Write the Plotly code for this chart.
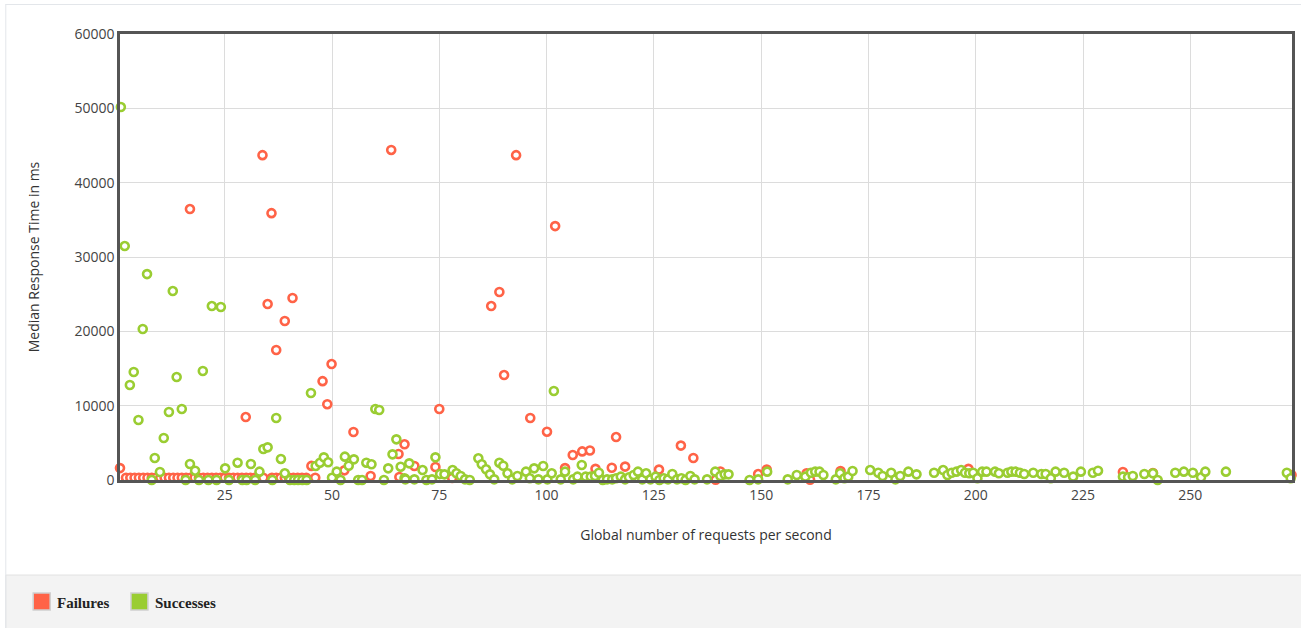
import plotly.graph_objects as go

# ---------------- data ----------------
fail_x = [0.6, 2, 3, 4, 5, 6, 7, 8, 9, 10, 11, 12, 13, 14, 15, 16, 17, 18, 19, 20, 21, 22, 23, 24,
          25, 26, 27, 28, 29, 30, 31, 32, 33, 34, 36, 37, 38, 39, 40, 41, 42, 43, 44, 46.1,
          16.9, 29.9, 33.8, 35.0, 35.9, 37.0, 39.0, 40.8,
          45.2, 47.8, 48.9, 49.9, 52.9, 55.0, 59.0, 63.8, 65.5, 65.7, 66.9, 69.2, 74.1, 75.0, 78.0,
          87.1, 89.0, 90.1, 92.9, 96.2, 100.1, 102.0, 104.3, 106.1, 108.3, 110.1, 111.4, 115.2,
          116.2, 118.3, 126.2, 131.3, 134.2,
          139.4, 140.5, 149.3, 151.3, 160.6, 161.4, 168.5, 198.3, 234.3, 241.3, 273.6]
fail_y = [1600, 300, 300, 300, 300, 300, 300, 300, 300, 300, 300, 300, 300, 300, 300, 300, 300, 300,
          300, 300, 300, 300, 300, 300, 300, 300, 300, 300, 300, 300, 300, 300, 300, 300, 300, 300,
          300, 300, 300, 300, 300, 300, 300, 300,
          36450, 8470, 43700, 23670, 35900, 17490, 21390, 24480,
          1900, 13300, 10200, 15600, 1300, 6460, 540, 44400, 3500, 400, 4800, 1880, 1750, 9550, 270,
          23400, 25290, 14120, 43700, 8340, 6500, 34160, 1600, 3360, 3850, 3970, 1500, 1650,
          5780, 1800, 1400, 4630, 2960,
          50, 1150, 800, 1400, 900, 50, 1200, 1500, 1080, 940, 670]

succ_x = [0.8, 1.7, 2.9, 3.8, 4.9, 5.9, 6.9, 8.7, 9.9, 10.8, 12.0, 12.9, 13.8, 15.0, 19.9, 22.0,
          24.1, 37.0, 45.1, 60.1, 61.0, 101.7,
          8.0, 15.9, 16.9, 18.1, 19.0, 21.2, 23.1, 25.1, 26.0, 28.0, 29.1, 30.1, 31.1, 32.1, 33.1,
          34.0, 35.0, 36.1, 38.1, 39.0, 40.2, 41.2, 42.1, 43.1, 44.1, 46.2, 47.2, 48.1, 49.1, 50.0,
          51.1, 52.0, 53.0, 53.9, 55.1, 56.1, 57.0, 58.0, 59.2, 62.1, 63.1, 64.1, 65.0, 66.0, 66.9,
          67.1, 68.0, 69.2, 71.1, 72.0, 73.3, 74.1, 75.2, 76.2, 78.1, 79.0, 80.0, 81.0, 82.1, 84.1,
          84.9, 85.9, 86.8, 87.8, 89.0, 89.9, 90.9, 92.0, 93.2, 95.2, 96.1, 97.1, 98.1, 99.2, 100.2,
          101.2, 103.3, 104.3, 106.2, 107.2, 108.2, 109.1, 110.3, 111.3, 112.2, 113.1, 114.1, 115.3,
          116.2, 117.3, 118.3, 119.2, 120.3, 121.3, 122.3, 123.2, 124.2, 125.4, 126.3, 127.3, 128.3,
          129.3, 130.4, 131.4, 132.4, 133.5, 134.5,
          137.4, 139.3, 140.5, 141.5, 142.4, 147.3, 149.3, 151.4, 156.2, 158.3, 160.3, 161.6, 162.6,
          163.6, 164.5, 167.4, 168.4, 169.4, 170.3, 171.3, 175.4, 177.3, 178.3, 180.3, 181.3, 182.4,
          184.3, 186.2, 190.3, 192.4, 193.4, 194.4, 195.5, 196.6, 197.5, 198.5, 199.4, 200.4, 201.5,
          202.5, 204.5, 205.4, 207.4, 208.3, 209.3, 210.3, 211.3, 213.4, 215.3, 216.3, 217.5, 218.6,
          220.6, 222.7, 224.5, 227.3, 228.5, 234.3, 235.5, 236.6, 239.3, 241.3, 242.4, 246.5, 248.5,
          250.6, 252.5, 253.5, 258.3, 272.5, 273.4]
succ_y = [50170, 31470, 12780, 14530, 8070, 20310, 27700, 2960, 1080, 5650, 9150, 25420, 13850, 9550,
          14660, 23400, 23270, 8340, 11700, 9550, 9420, 11970,
          0, 0, 2150, 1250, 0, 0, 0, 1570, 0, 2330, 0, 0, 2150, 0, 1120,
          4170, 4390, 0, 2830, 900, 0, 0, 0, 0, 0, 1880, 2330, 3050, 2380, 310,
          1120, 0, 3140, 1920, 2780, 0, 0, 2330, 2110, 0, 1570, 3450, 5470, 1790, 230,
          90, 2240, 90, 1340, 0, 90, 3050, 810, 760, 1340, 900, 540, 90, 0, 2920,
          2110, 1440, 760, 90, 2330, 1920, 900, 90, 540, 1120, 230, 1570, 90, 1880, 90,
          900, 90, 1120, 90, 450, 2020, 450, 450, 540, 980, 0, 90, 90,
          230, 450, 90, 360, 670, 1120, 90, 900, 90, 450, 0, 230, 90,
          810, 90, 230, 0, 540, 90,
          90, 1120, 540, 760, 760, 0, 90, 1120, 90, 670, 450, 980, 1120,
          1120, 670, 90, 900, 230, 450, 1210, 1340, 980, 540, 980, 90, 540,
          1120, 760, 980, 1340, 670, 980, 1120, 1340, 980, 900, 980, 230, 1120,
          1120, 1120, 900, 980, 1120, 1120, 980, 810, 980, 810, 810, 230, 1120,
          980, 450, 1120, 980, 1250, 450, 360, 540, 810, 900, 0, 980, 1120,
          980, 360, 1120, 1120, 980, 230]

series_names = ["Failures", "Successes"]
series_colors = ["#FF6347", "#9ACD32"]
x_ticks = [25, 50, 75, 100, 125, 150, 175, 200, 225, 250]
y_ticks = [0, 10000, 20000, 30000, 40000, 50000, 60000]

# ---------------- figure ----------------
W, H = 1301, 628
L, R, T, B = 120, 1295, 34, 480


def px(xp):
    return (xp - L) / (R - L)


def py(yp):
    return (B - yp) / (B - T)


fig = go.Figure()
for xs, ys, name, col in [(fail_x, fail_y, series_names[0], series_colors[0]),
                          (succ_x, succ_y, series_names[1], series_colors[1])]:
    fig.add_trace(go.Scatter(
        x=xs, y=ys, mode="markers", name=name, showlegend=False,
        marker=dict(symbol="circle", size=8, color="white",
                    line=dict(color=col, width=2.6)),
        cliponaxis=False,
    ))

shapes = [
    # legend band
    dict(type="rect", xref="paper", yref="paper", x0=px(5.5), x1=px(1305), y0=py(575), y1=py(632),
         fillcolor="#f3f3f3", line=dict(color="#e2e2e2", width=1), layer="below"),
    # outer frame lines
    dict(type="line", xref="paper", yref="paper", x0=px(5), x1=px(1305), y0=py(4.5), y1=py(4.5),
         line=dict(color="#e3e6ea", width=1)),
    dict(type="line", xref="paper", yref="paper", x0=px(5.5), x1=px(5.5), y0=py(4.5), y1=py(632),
         line=dict(color="#e3e6ea", width=1)),
]
# legend swatches
for (x0, col) in [(33, series_colors[0]), (131, series_colors[1])]:
    shapes.append(dict(type="rect", xref="paper", yref="paper",
                       x0=px(x0), x1=px(x0 + 17), y0=py(593), y1=py(610),
                       fillcolor=col, line=dict(color="#cfcfcf", width=1.5)))

annotations = [
    dict(text="<b>" + series_names[0] + "</b>", xref="paper", yref="paper", x=px(55), y=py(603),
         xanchor="left", yanchor="middle", showarrow=False,
         font=dict(family="Liberation Serif", size=15, color="#222")),
    dict(text="<b>" + series_names[1] + "</b>", xref="paper", yref="paper", x=px(153), y=py(603),
         xanchor="left", yanchor="middle", showarrow=False,
         font=dict(family="Liberation Serif", size=15, color="#222")),
]

fig.update_layout(
    width=W, height=H, autosize=False,
    margin=dict(l=L, r=W - R, t=T, b=H - B),
    paper_bgcolor="white", plot_bgcolor="white",
    shapes=shapes, annotations=annotations,
    font=dict(family="Open Sans", size=14, color="#555"),
    xaxis=dict(range=[0.6, 273.7], tickvals=x_ticks, ticktext=[str(v) for v in x_ticks],
               showgrid=True, gridcolor="#dcdcdc", gridwidth=1, zeroline=False,
               showline=True, linecolor="#555", linewidth=2.5, mirror=True, ticks="",
               tickfont=dict(family="Open Sans", size=14, color="#444"),
               title=dict(text="Global number of requests per second", standoff=28,
                          font=dict(family="Open Sans", size=14, color="#333"))),
    yaxis=dict(range=[0, 60000], tickvals=y_ticks, ticktext=[str(v) for v in y_ticks],
               showgrid=True, gridcolor="#dcdcdc", gridwidth=1, zeroline=False,
               showline=True, linecolor="#555", linewidth=2.5, mirror=True, ticks="",
               tickfont=dict(family="Open Sans", size=14, color="#444"),
               title=dict(text="Median Response Time in ms", standoff=32,
                          font=dict(family="Open Sans", size=14, color="#333"))),
)

fig.write_html("out.html", config={"displayModeBar": False},
               post_script="document.body.style.margin='0px';document.body.style.overflow='hidden';")
